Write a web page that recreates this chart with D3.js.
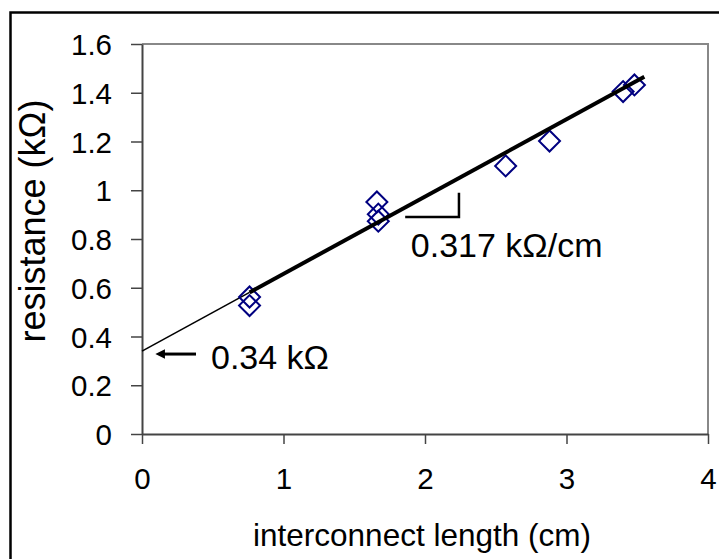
<!DOCTYPE html>
<html>
<head>
<meta charset="utf-8">
<script src="https://cdn.jsdelivr.net/npm/d3@7/dist/d3.min.js"></script>
<style>
  html, body { margin: 0; padding: 0; background: #fff; }
  svg { display: block; font-family: "Liberation Sans", Arial, sans-serif; }
</style>
</head>
<body>
<svg id="chart" width="719" height="559"></svg>
<script>
// Measured interconnect samples
const lengths     = [0.76, 0.76, 1.66, 1.67, 1.67, 2.57, 2.88, 3.40, 3.48];
const resistances = [0.562, 0.527, 0.952, 0.902, 0.873, 1.100, 1.202, 1.405, 1.432];

// Linear fit: R = intercept + slope * L
const fitIntercept = 0.34;   // kΩ
const fitSlope = 0.317;      // kΩ/cm
const fitStart = 0.76;       // start of the fitted (thick) segment
const fitEnd = 3.55;

const xTicks = [0, 1, 2, 3, 4];
const yTicks = [0, 0.2, 0.4, 0.6, 0.8, 1.0, 1.2, 1.4, 1.6];

const svg = d3.select("#chart");

// outer frame
svg.append("rect")
  .attr("x", 10.5).attr("y", 12.5)
  .attr("width", 760).attr("height", 600)
  .attr("fill", "none").attr("stroke", "#000").attr("stroke-width", 2.5);

const plot = { left: 142, top: 44, right: 708, bottom: 434 };

const x = d3.scaleLinear().domain([0, 4]).range([plot.left, plot.right]);
const y = d3.scaleLinear().domain([0, 1.6]).range([plot.bottom, plot.top]);

// plot-area border (top and right)
svg.append("path")
  .attr("d", `M${plot.left},${plot.top}H${plot.right}V${plot.bottom}`)
  .attr("fill", "none").attr("stroke", "#888").attr("stroke-width", 2);

// axes
const xAxis = svg.append("g")
  .attr("transform", `translate(0,${plot.bottom})`)
  .call(d3.axisBottom(x).tickValues(xTicks).tickSize(10).tickPadding(24).tickSizeOuter(0)
    .tickFormat(d3.format("d")));
const yAxis = svg.append("g")
  .attr("transform", `translate(${plot.left},0)`)
  .call(d3.axisLeft(y).tickValues(yTicks).tickSize(11).tickPadding(19).tickSizeOuter(0)
    .tickFormat(d => d3.format("~g")(d)));

[xAxis, yAxis].forEach(g => {
  g.select(".domain").attr("stroke", "#444").attr("stroke-width", 2);
  g.selectAll(".tick line").attr("stroke", "#444").attr("stroke-width", 1.5);
  g.selectAll(".tick text").attr("fill", "#000").attr("font-size", 29.5)
    .attr("font-family", "'Liberation Sans', Arial, sans-serif");
});
yAxis.selectAll(".tick text").attr("dy", "0.36em");

// axis titles
svg.append("text")
  .attr("x", 422).attr("y", 546)
  .attr("text-anchor", "middle").attr("font-size", 31.5)
  .text("interconnect length (cm)");
svg.append("text")
  .attr("transform", "translate(45,221) rotate(-90)")
  .attr("text-anchor", "middle").attr("font-size", 36)
  .text("resistance (kΩ)");

// fitted line: thin extrapolation to L = 0, thick over the measured range
const fit = L => fitIntercept + fitSlope * L;
svg.append("line")
  .attr("x1", x(0)).attr("y1", y(fit(0)))
  .attr("x2", x(fitStart)).attr("y2", y(fit(fitStart)))
  .attr("stroke", "#000").attr("stroke-width", 1.6);

// data markers (open diamonds)
const diamond = d3.symbol().type(d3.symbolSquare).size(220);
svg.append("g").selectAll("path")
  .data(lengths.map((L, i) => [L, resistances[i]]))
  .join("path")
  .attr("d", diamond)
  .attr("transform", d => `translate(${x(d[0])},${y(d[1])}) rotate(45)`)
  .attr("fill", "none").attr("stroke", "#000080").attr("stroke-width", 2);

svg.append("line")
  .attr("x1", x(fitStart)).attr("y1", y(fit(fitStart)))
  .attr("x2", x(fitEnd)).attr("y2", y(fit(fitEnd)))
  .attr("stroke", "#000").attr("stroke-width", 4);

// slope marker
const slopeX0 = 1.86, slopeX1 = 2.24, slopeY0 = 0.89, slopeY1 = 0.99;
svg.append("path")
  .attr("d", `M${x(slopeX0)},${y(slopeY0)}H${x(slopeX1)}V${y(slopeY1)}`)
  .attr("fill", "none").attr("stroke", "#000").attr("stroke-width", 2.5);
svg.append("text")
  .attr("x", x(1.9)).attr("y", 257)
  .attr("font-size", 34)
  .text(`${fitSlope} kΩ/cm`);

// intercept arrow and label
const arrowY = y(0.328);
svg.append("defs").append("marker")
  .attr("id", "arrowhead")
  .attr("viewBox", "0 0 10 10").attr("refX", 1).attr("refY", 5)
  .attr("markerWidth", 3.4).attr("markerHeight", 3.2)
  .attr("markerUnits", "strokeWidth")
  .attr("orient", "auto-start-reverse")
  .append("path").attr("d", "M0,0L10,5L0,10Z").attr("fill", "#000");
svg.append("line")
  .attr("x1", 196).attr("y1", arrowY)
  .attr("x2", 164).attr("y2", arrowY)
  .attr("stroke", "#000").attr("stroke-width", 3)
  .attr("marker-end", "url(#arrowhead)");
svg.append("text")
  .attr("x", 211).attr("y", 369)
  .attr("font-size", 34)
  .text(`${fitIntercept} kΩ`);
</script>
</body>
</html>
